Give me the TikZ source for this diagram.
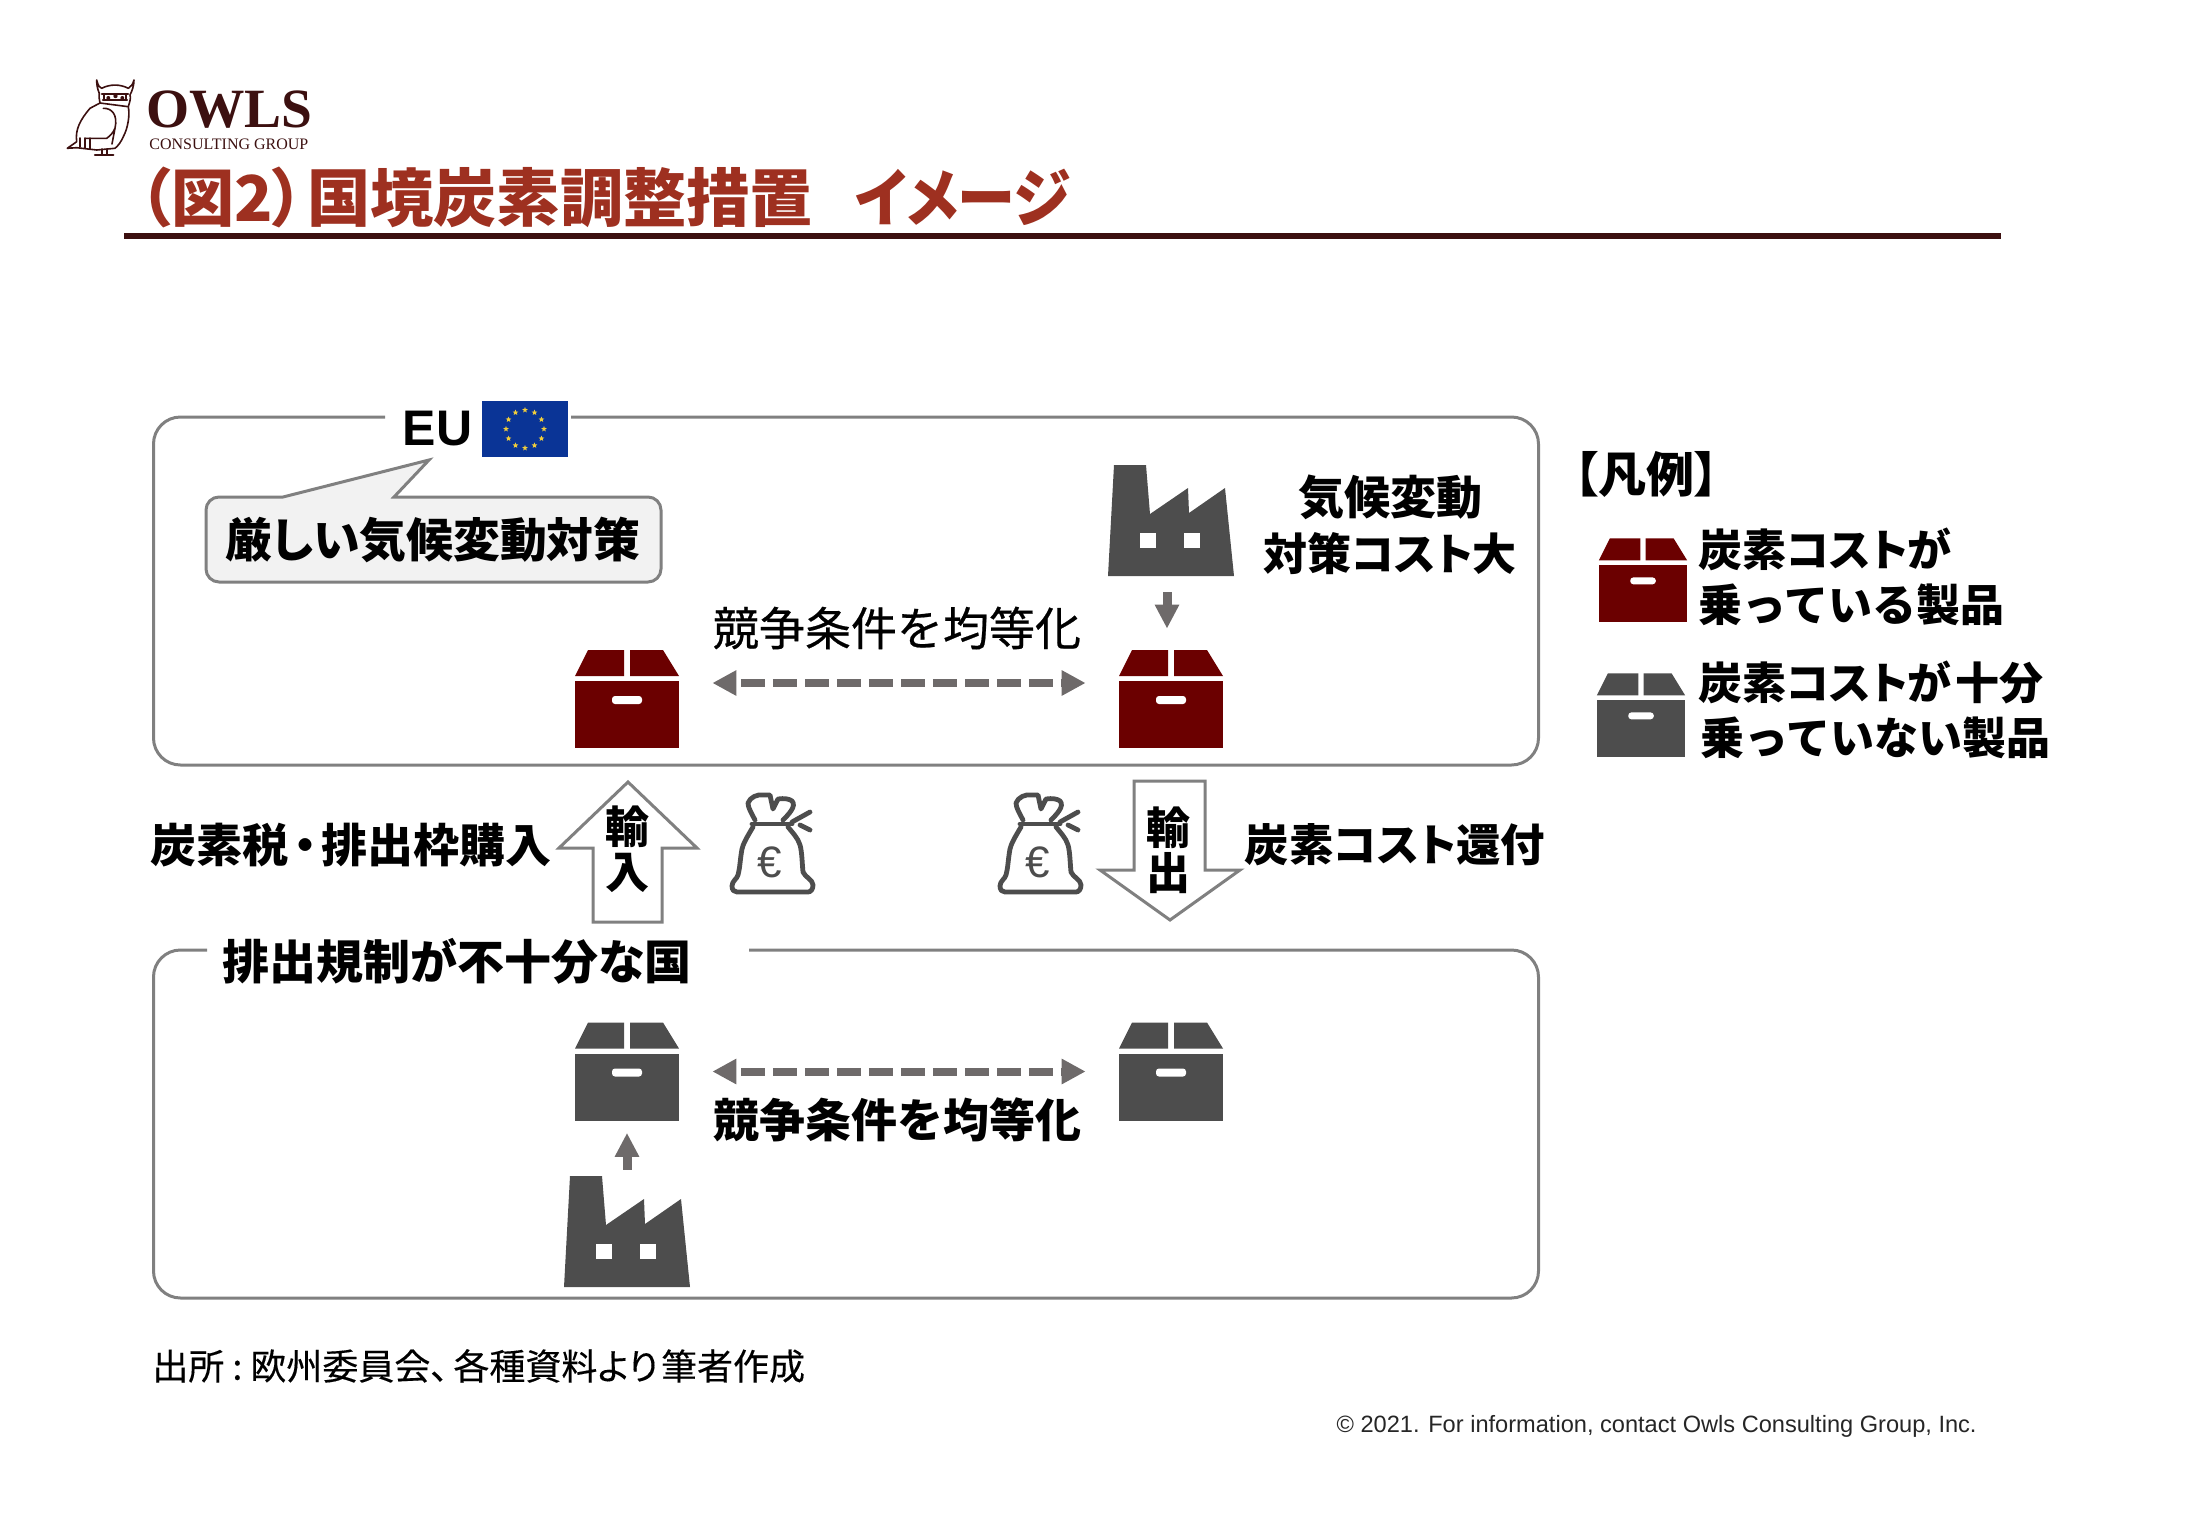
\documentclass[tikz,border=0pt]{standalone}
\usepackage{fontspec}
\setmainfont{Noto Sans CJK JP}[RawFeature=+palt]
\newfontfamily\fullwidth{Noto Sans CJK JP}
\newfontfamily\mediumfont{Noto Sans CJK JP}[FakeBold=0.5]
\newfontfamily\mediumprop{Noto Sans CJK JP}[FakeBold=0.3,RawFeature=+palt]
\newfontfamily\latinfont{Liberation Sans}
\newfontfamily\logofont{Liberation Serif}
\usetikzlibrary{arrows.meta, positioning, shapes.geometric}
\definecolor{titlered}{RGB}{158,48,32}
\definecolor{maroon}{RGB}{60,16,16}
\definecolor{cargored}{RGB}{107,0,0}
\definecolor{cargogray}{RGB}{77,77,77}
\definecolor{arrowgray}{RGB}{110,106,106}
\definecolor{framegray}{RGB}{128,128,128}
\definecolor{eublue}{RGB}{10,52,150}
\definecolor{eugold}{RGB}{240,205,60}

\tikzset{
    pics/cargo/.style={code={
        \node[minimum width=52pt, minimum height=49pt, inner sep=0pt, transform shape] (-body) at (0,0) {};
        \fill[#1] (-52,-23) -- (-39,-49) -- (-3,-49) -- (-3,-23) -- cycle;
        \fill[#1] (3,-23) -- (3,-49) -- (36,-49) -- (52,-23) -- cycle;
        \fill[#1] (-52,-18) rectangle (52,49);
        \fill[white, rounded corners=1.5pt] (-15,-3) rectangle (15,5);
    }},
    pics/factory/.style={code={
        \node[minimum width=63pt, minimum height=55.5pt, inner sep=0pt] (-body) at (63,55.5) {};
        \fill[cargogray] (0,111) -- (6,0) -- (38,0) -- (42,49) -- (80,23) -- (81,48) -- (117,23) -- (126,111) -- cycle;
        \fill[white] (32,68) rectangle (48,83);
        \fill[white] (76,68) rectangle (92,83);
    }},
    pics/moneybag/.style={code={
        \draw[bagline] (23,35) .. controls (17,45) and (13,52) .. (12,57) .. controls (10,68) and (10,76) .. (8,83) .. controls (7,87) and (2,89) .. (2,94) .. controls (2,98) and (4,100) .. (7,100) -- (78,100) .. controls (81,100) and (83,97) .. (83,93) .. controls (83,88) and (75,85) .. (73,80) .. controls (72,70) and (72,60) .. (70,53) .. controls (68,46) and (62,40) .. (58,35);
        \draw[bagline] (22,32) -- (62,32);
        \draw[bagline] (25,28) .. controls (22,22) and (18,16) .. (18,11) .. controls (20,5) and (28,2) .. (33,3) -- (40,3) -- (43,17) -- (48,7) .. controls (54,6) and (60,7) .. (62,9) .. controls (67,14) and (58,23) .. (53,28);
        \draw[bagline] (62,30) -- (80,20);
        \draw[bagline] (70,33) -- (80,38);
        \node[inner sep=0pt, text=cargogray, font=\latinfont\fontsize{22}{22}\selectfont] (-euro) at (40,70) {€};
    }}
}

\begin{document}
\begin{tikzpicture}[
    x=0.5pt, y=-0.5pt,
    jptext/.style={inner sep=0pt, font=\bfseries\fontsize{23}{27}\selectfont},
    thintext/.style={inner sep=0pt, font=\mediumfont\fontsize{23}{27}\selectfont},
    legendtext/.style={inner sep=0pt, anchor=west, align=left, font=\bfseries\fontsize{22}{27.5}\selectfont},
    frame/.style={draw=framegray, line width=1.5pt, rounded corners=13.5pt},
    bigarrow/.style={draw=framegray, fill=white, line width=1.5pt, miter limit=10},
    bagline/.style={draw=cargogray, line width=2.4pt, line cap=round, line join=round},
    owlline/.style={draw=maroon, line width=0.8pt, line join=round, line cap=round},
    evenarrow/.style={{Triangle[length=12pt,width=12pt]}-{Triangle[length=12pt,width=12pt]}, arrowgray, line width=4pt, dash pattern=on 12pt off 4pt, dash phase=13pt, shorten <=16.5pt, shorten >=16.5pt},
    smallarrow/.style={-{Triangle[length=12pt,width=11.5pt]}, arrowgray, line width=4.5pt},
    euStar/.style={star, star points=5, star point ratio=2.3, fill=eugold, inner sep=0pt, minimum size=3pt}
]
\useasboundingbox (0,0) rectangle (2196,1526);

% Logo
\draw[owlline] (99.3,93.3) .. controls (97,88) and (96.7,84) .. (96.7,80) .. controls (98,86) and (100,88) .. (101.7,88.3) .. controls (110,84) and (120,84) .. (128.3,88.3) .. controls (131,87) and (133,84) .. (134,80) .. controls (134,86) and (132,91) .. (130,95) .. controls (131,98) and (130,101) .. (128.3,106.7) .. controls (130,115) and (128,128) .. (123.3,136.7) .. controls (121,142) and (118,146) .. (115,148.3) -- (96.7,150) -- (76.7,147.7) -- (67.3,148.3) -- (76.7,141.7) .. controls (75,130) and (80,120) .. (90,108.3) -- (100,103) .. controls (99,100) and (99,96) .. (99.3,93.3) -- cycle;
\draw[owlline] (103.3,108.3) .. controls (112,108) and (118,115) .. (115,128.3) .. controls (113,133) and (110,136) .. (106.7,138.3) -- (85,138.3) (80,138) -- (80,147) (85,138) -- (85,148) (90,138) -- (90,149) (100,103) -- (128.3,106.7) (115,128.3) -- (112,144);
\draw[owlline, line width=1.2pt] (102,94) -- (128,94) (103,100) -- (127,100) (104,94) -- (104,100) (126,94) -- (126,100);
\fill[maroon] (108.3,98) circle (2) (122.3,98) circle (2) (115.5,96) circle (2.2);
\draw[owlline] (101.7,149) -- (101.7,154) (106.7,149) -- (106.7,154);
\draw[owlline, line width=1.2pt] (95,155) -- (113.3,155);
\node[inner sep=0pt, anchor=west, text=maroon, font=\logofont\bfseries\fontsize{27.7}{28}\selectfont] (logoname) at (146,110) {OWLS};
\node[inner sep=0pt, anchor=west, text=maroon, font=\logofont\fontsize{8}{8}\selectfont] (logosub) at (149,144) {CONSULTING GROUP};

% Title
\node[inner sep=0pt, anchor=west, text=titlered, font=\bfseries\fontsize{31.6}{32}\selectfont] (title) at (139,197) {（図2）\hspace{1.5pt}国境炭素調整措置\hspace{21pt}\scalebox{0.92}[1]{イメージ}};
\draw[maroon, line width=3pt] (124,236) -- (2001,236);

% EU frame
\draw[frame] (385,417) -- (153.5,417) -- (153.5,765) -- (1538.5,765) -- (1538.5,417) -- (571,417);
\node[fill=eublue, minimum width=43pt, minimum height=28pt, inner sep=0pt] (flag) at (525,429) {};
\foreach \a in {0,30,...,330}
    \path (flag.center) ++(\a:19) node[euStar] (star\a) {};
\node[inner sep=0pt, left=4.5pt of flag, font=\latinfont\bfseries\fontsize{25}{25}\selectfont] (eu) {EU};

% Speech bubble
\draw[draw=framegray, fill=black!5, line width=1.5pt] (283,497) -- (429,460) -- (394,497) [rounded corners=6.5pt] -- (661,497) -- (661,582) -- (206,582) -- (206,497) [sharp corners] -- cycle;
\node[jptext, font=\bfseries\fontsize{23.4}{27}\selectfont] (strict) at (433,540) {厳しい気候変動対策};

% EU products
\pic (boxA) at (627,699) {cargo=cargored};
\pic (boxB) at (1171,699) {cargo=cargored};
\pic (factoryA) at (1108,465) {factory};
\node[thintext] (equalA) at (897,628) {競争条件を均等化};
\node[jptext] (costA) at (1390,497) {気候変動};
\node[jptext, below=6pt of costA, font=\bfseries\fontsize{22}{27}\selectfont] (costB) {対策コスト大};
\draw[evenarrow] ([yshift=8pt]boxA-body.east) -- ([yshift=8pt]boxB-body.west);
\draw[smallarrow, shorten <=8pt, shorten >=10.5pt] ([xshift=-2pt]factoryA-body.south) -- ([xshift=-2pt]boxB-body.north);

% Import and export
\draw[bigarrow] (628,782) -- (697,848) -- (662,848) -- (662,922) -- (593,922) -- (593,848) -- (559,848) -- cycle;
\draw[bigarrow] (1134,781) -- (1205,781) -- (1205,870) -- (1240,870) -- (1170,920) -- (1100,870) -- (1134,870) -- cycle;
\node[inner sep=0pt, align=center, font=\bfseries\fontsize{22}{22.5}\selectfont] (importtext) at (627,849) {輸\\入};
\node[inner sep=0pt, align=center, font=\bfseries\fontsize{22}{22.5}\selectfont] (exporttext) at (1168,850) {輸\\出};
\node[jptext] (taxtext) at (351,845) {炭素税\hspace{2.6pt}・\hspace{2.6pt}排出枠購入};
\node[jptext, font=\bfseries\fontsize{22.2}{27}\selectfont] (refundtext) at (1395,845) {炭素コスト還付};
\pic (bagA) at (730,792) {moneybag};
\pic (bagB) at (998,792) {moneybag};

% Other country frame
\draw[frame] (207,950) -- (153.5,950) -- (153.5,1298) -- (1538.5,1298) -- (1538.5,950) -- (749,950);
\node[jptext, font=\bfseries\fontsize{23.5}{27}\selectfont] (weaktext) at (457,961) {排出規制が不十分な国};
\pic (boxC) at (627,1071.5) {cargo=cargogray};
\pic (boxD) at (1171,1071.5) {cargo=cargogray};
\pic (factoryB) at (564,1176) {factory};
\node[jptext, font=\fullwidth\bfseries\fontsize{23}{27}\selectfont] (equalB) at (897,1120) {競争条件を均等化};
\draw[evenarrow] (boxC-body.east) -- (boxD-body.west);
\draw[smallarrow, shorten <=3pt, shorten >=6pt] (factoryB-body.north) -- (boxC-body.south);

% Legend
\node[inner sep=0pt, anchor=west, font=\bfseries\fontsize{24}{24}\selectfont] (legendhead) at (1574,474) {【凡例】};
\pic[scale=0.85] (legendA) at (1643,580) {cargo=cargored};
\pic[scale=0.85] (legendB) at (1641,715) {cargo=cargogray};
\node[legendtext] (legendAtext) at (1698,577) {炭素コストが\\{\fullwidth\bfseries 乗っている製品}};
\node[legendtext] (legendBtext) at (1698,710) {炭素コストが\hspace{2pt}十分\\{\fullwidth\bfseries\hspace{1pt}乗っていない製品}};

% Footer
\node[inner sep=0pt, anchor=west, font=\mediumprop\fontsize{18}{18}\selectfont] (source) at (152,1366) {出所\hspace{4pt}:\hspace{4pt}欧州委員会、\hspace{2.5pt}各種資料より\hspace{1.5pt}筆者作成};
\node[inner sep=0pt, anchor=east, text=black!85, font=\latinfont\fontsize{11.8}{12}\selectfont] (copyright) at (1977,1426) {© 2021. For information, contact Owls Consulting Group, Inc.};
\end{tikzpicture}
\end{document}
